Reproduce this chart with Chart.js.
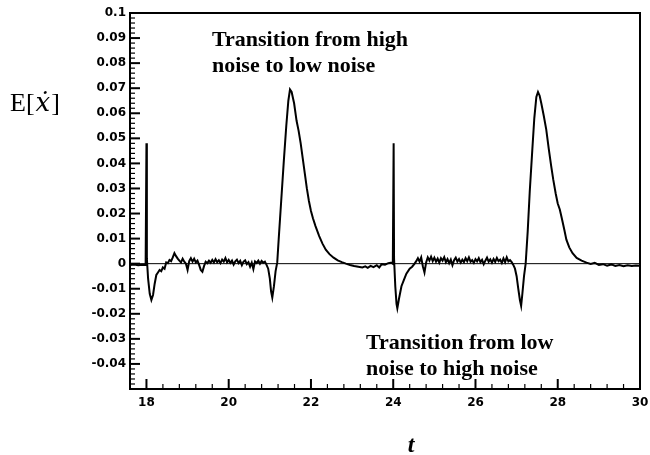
<!DOCTYPE html>
<html>
<head>
<meta charset="utf-8">
<script src="https://cdn.jsdelivr.net/npm/chart.js@4"></script>
<style>
  html, body { margin: 0; padding: 0; background: #fff; }
</style>
</head>
<body>
<canvas id="chart" width="650" height="455"></canvas>
<script>
// E[x dot] against t
let leadIn = [[17.6,-0.0005],[17.7,-0.0003],[17.8,-0.0006],[17.9,-0.0004],[17.98,-0.0005]];

let spike1 = [[18.0,0.048],[18.01,0.002],[18.04,-0.006],[18.08,-0.012],[18.12,-0.0145],[18.16,-0.0125],
  [18.2,-0.008],[18.24,-0.0045],[18.28,-0.0035],[18.32,-0.0025],[18.36,-0.003],[18.4,-0.0015],[18.44,-0.002]];

let noise1 = [[18.48,0.0005],[18.52,0.0002],[18.56,0.0015],[18.6,0.001],[18.64,0.0025],[18.68,0.0042],
  [18.72,0.003],[18.76,0.002],[18.8,0.0012],[18.84,0.0005],[18.88,0.002],[18.92,0.0008],[18.96,0.0],
  [19.0,-0.0025],[19.04,0.001],[19.08,0.0022],[19.12,0.0008],[19.16,0.002],[19.2,0.0005],[19.24,0.0012],
  [19.28,-0.0005],[19.32,-0.0025],[19.36,-0.0032],[19.4,-0.001],[19.44,0.0008],[19.48,0.0002],[19.52,0.0012],
  [19.56,0.0004],[19.6,0.0015],[19.64,0.0005],[19.68,0.0018],[19.72,0.0006],[19.76,0.0014],[19.8,0.0002],
  [19.84,0.0016],[19.88,0.0008],[19.92,0.0022],[19.96,0.0005],[20.0,0.0015],[20.04,0.0003],[20.08,0.0012],
  [20.12,-0.0004],[20.16,0.0009],[20.2,0.0016],[20.24,0.0002],[20.28,0.0011],[20.32,-0.0006],[20.36,0.0008],
  [20.4,0.0013],[20.44,-0.0002],[20.48,0.0006],[20.52,-0.0012],[20.56,0.0004],[20.6,-0.0022],[20.64,0.0009],
  [20.68,0.0003],[20.72,0.0012],[20.76,0.0],[20.8,0.0011],[20.84,0.0004],[20.88,0.0008],[20.92,-0.0005]];

let peak1 = [[20.96,-0.002],[21.0,-0.006],[21.03,-0.011],[21.06,-0.0135],[21.1,-0.009],[21.14,-0.003],
  [21.18,0.0005],[21.22,0.011],[21.28,0.026],[21.34,0.041],[21.4,0.055],[21.45,0.065],[21.49,0.0695],
  [21.53,0.0685],[21.59,0.064],[21.65,0.057],[21.7,0.053],[21.75,0.048],[21.8,0.042],[21.85,0.036],
  [21.9,0.03],[21.95,0.025],[22.0,0.021],[22.05,0.018],[22.11,0.015],[22.2,0.011],[22.28,0.008],
  [22.36,0.0056],[22.45,0.0038],[22.55,0.0024],[22.65,0.0013],[22.75,0.0006],[22.85,0.0]];

let quiet1 = [[22.95,-0.0005],[23.05,-0.0009],[23.15,-0.0012],[23.25,-0.0015],[23.32,-0.0011],[23.38,-0.0017],
  [23.45,-0.0009],[23.52,-0.0014],[23.6,-0.0006],[23.66,-0.0015],[23.72,-0.0002],[23.8,-0.0004],
  [23.88,0.0002],[23.96,0.0004],[23.99,0.0]];

let spike2 = [[24.01,0.048],[24.02,0.002],[24.05,-0.009],[24.08,-0.016],[24.1,-0.0178],[24.14,-0.014],
  [24.2,-0.009],[24.26,-0.0065],[24.32,-0.004],[24.4,-0.002],[24.46,-0.0012],[24.52,0.0]];

let noise2 = [[24.56,0.001],[24.6,0.0022],[24.64,0.0008],[24.68,0.0025],[24.72,-0.001],[24.76,-0.0035],
  [24.8,0.0005],[24.84,0.0025],[24.88,0.0012],[24.92,0.0028],[24.96,0.001],[25.0,0.0024],[25.04,0.0008],
  [25.08,0.002],[25.12,0.0004],[25.16,0.0022],[25.2,0.0012],[25.24,0.0026],[25.28,0.0006],[25.32,0.0018],
  [25.36,0.0002],[25.4,0.0016],[25.44,-0.0006],[25.48,0.0014],[25.52,0.0024],[25.56,0.0008],[25.6,0.0018],
  [25.64,0.0004],[25.68,0.0016],[25.72,0.0006],[25.76,0.0022],[25.8,0.001],[25.84,0.0025],[25.88,0.0008],
  [25.92,0.0014],[25.96,0.0003],[26.0,0.0018],[26.04,0.0009],[26.08,0.0022],[26.12,0.0006],[26.16,0.0015],
  [26.2,-0.0002],[26.24,0.0012],[26.28,0.0024],[26.32,0.0008],[26.36,0.0017],[26.4,0.0004],[26.44,0.0019],
  [26.48,0.0007],[26.52,0.0023],[26.56,0.001],[26.6,0.0016],[26.64,0.0003],[26.68,0.0021],[26.72,0.0006],
  [26.76,0.0025],[26.8,0.0009],[26.84,0.0014],[26.88,0.0006]];

let peak2 = [[26.92,-0.0005],[26.96,-0.002],[27.0,-0.005],[27.04,-0.01],[27.08,-0.0145],[27.11,-0.0168],
  [27.14,-0.012],[27.18,-0.005],[27.22,0.0],[27.27,0.013],[27.32,0.029],[27.38,0.045],[27.43,0.058],
  [27.48,0.0665],[27.52,0.0685],[27.56,0.067],[27.6,0.064],[27.66,0.059],[27.72,0.0536],[27.78,0.046],
  [27.84,0.039],[27.89,0.0336],[27.95,0.028],[28.0,0.024],[28.05,0.0216],[28.1,0.018],[28.16,0.0135],
  [28.21,0.0096],[28.28,0.0065],[28.36,0.0042],[28.46,0.0023],[28.58,0.0012],[28.7,0.0004]];

let tail = [[28.8,-0.0001],[28.9,0.0003],[29.0,-0.0005],[29.1,-0.0002],[29.2,-0.0008],[29.3,-0.0003],
  [29.4,-0.0009],[29.5,-0.0005],[29.6,-0.001],[29.7,-0.0006],[29.8,-0.0009],[29.9,-0.0007],[30.0,-0.0008]];

let zero_line = [[17.6,0],[30,0]];

let x_ticks = [18, 20, 22, 24, 26, 28, 30];
let x_tick_labels = ['18', '20', '22', '24', '26', '28', '30'];
let y_ticks = [-0.04, -0.03, -0.02, -0.01, 0, 0.01, 0.02, 0.03, 0.04, 0.05, 0.06, 0.07, 0.08, 0.09, 0.1];
let y_tick_labels = ['-0.04', '-0.03', '-0.02', '-0.01', '0', '0.01', '0.02', '0.03', '0.04', '0.05',
  '0.06', '0.07', '0.08', '0.09', '0.1'];

let note_high = ['Transition from high', 'noise to low noise'];
let note_low = ['Transition from low', 'noise to high noise'];

function toPoints(arr) {
  return arr.map(function(p) { return {x: p[0], y: p[1]}; });
}

let curve = [].concat(leadIn, spike1, noise1, peak1, quiet1, spike2, noise2, peak2, tail);

// inward ticks, box and the hand-placed texts
let decorPlugin = {
  id: 'decor',
  afterDraw: function(chart) {
    let ctx = chart.ctx;
    let a = chart.chartArea;
    let xs = chart.scales.x;
    let ys = chart.scales.y;
    ctx.save();
    ctx.strokeStyle = '#000';

    // x ticks every 0.4, major at the labelled ones
    for (let i = 0; i <= 30; i++) {
      let v = 18 + i * 0.4;
      if (v > 30.001) break;
      let px = xs.getPixelForValue(v);
      let major = i % 5 == 0;
      ctx.lineWidth = major ? 2 : 1.2;
      ctx.beginPath();
      ctx.moveTo(px, a.bottom);
      ctx.lineTo(px, a.bottom - (major ? 10 : 5));
      ctx.stroke();
    }
    // y ticks every 0.002
    for (let i = 0; i <= 75; i++) {
      let v = -0.05 + i * 0.002;
      let py = ys.getPixelForValue(v);
      let major = i % 5 == 0;
      ctx.lineWidth = major ? 2 : 1.2;
      ctx.beginPath();
      ctx.moveTo(a.left, py);
      ctx.lineTo(a.left + (major ? 10 : 5), py);
      ctx.stroke();
    }

    ctx.lineWidth = 2;
    ctx.strokeRect(a.left, a.top, a.right - a.left, a.bottom - a.top);

    ctx.fillStyle = '#000';
    ctx.textBaseline = 'middle';
    ctx.textAlign = 'left';
    ctx.font = 'bold 22px "Liberation Serif"';
    ctx.fillText(note_high[0], 212, 40);
    ctx.fillText(note_high[1], 212, 66);
    ctx.fillText(note_low[0], 366, 343);
    ctx.fillText(note_low[1], 366, 369);

    // y title E[x dot]
    ctx.textBaseline = 'alphabetic';
    ctx.font = '26px "Liberation Serif"';
    let x0 = 10;
    ctx.fillText('E[', x0, 111);
    x0 += ctx.measureText('E[').width;
    ctx.font = 'italic 26px "DejaVu Serif"';
    ctx.fillText('\u1E8B', x0 + 1, 111);
    x0 += ctx.measureText('\u1E8B').width + 2;
    ctx.font = '26px "Liberation Serif"';
    ctx.fillText(']', x0, 111);

    // x title
    ctx.font = 'italic bold 24px "Liberation Serif"';
    ctx.textAlign = 'center';
    ctx.fillText('t', 411, 452);
    ctx.restore();
  }
};

let ctx = document.getElementById('chart').getContext('2d');
let myChart = new Chart(ctx, {
  type: 'scatter',
  data: {
    datasets: [
      {
        data: toPoints(zero_line),
        showLine: true,
        borderColor: '#000',
        borderWidth: 1,
        pointRadius: 0
      },
      {
        data: toPoints(curve),
        showLine: true,
        borderColor: '#000',
        borderWidth: 2,
        pointRadius: 0,
        tension: 0
      }
    ]
  },
  options: {
    responsive: false,
    animation: false,
    devicePixelRatio: 1,
    layout: { padding: { left: 0, right: 10, top: 13, bottom: 0 } },
    plugins: {
      legend: { display: false },
      tooltip: { enabled: false }
    },
    scales: {
      x: {
        type: 'linear',
        min: 17.6,
        max: 30,
        afterBuildTicks: function(scale) {
          scale.ticks = x_ticks.map(function(v) { return {value: v}; });
        },
        afterFit: function(scale) {
          scale.height = 66;
          scale.paddingRight = 0;
          scale.paddingLeft = 0;
        },
        grid: { display: false, drawTicks: false },
        border: { display: false },
        ticks: {
          padding: 7,
          color: '#000',
          maxRotation: 0,
          autoSkip: false,
          font: { family: 'DejaVu Sans', weight: 'bold', size: 12 },
          callback: function(value, index) { return x_tick_labels[index]; }
        }
      },
      y: {
        type: 'linear',
        min: -0.05,
        max: 0.1,
        afterBuildTicks: function(scale) {
          scale.ticks = y_ticks.map(function(v) { return {value: v}; });
        },
        afterFit: function(scale) { scale.width = 130; },
        grid: { display: false, drawTicks: false },
        border: { display: false },
        ticks: {
          padding: 4,
          color: '#000',
          autoSkip: false,
          font: { family: 'DejaVu Sans', weight: 'bold', size: 12 },
          callback: function(value, index) { return y_tick_labels[index]; }
        }
      }
    }
  },
  plugins: [decorPlugin]
});
</script>
</body>
</html>
